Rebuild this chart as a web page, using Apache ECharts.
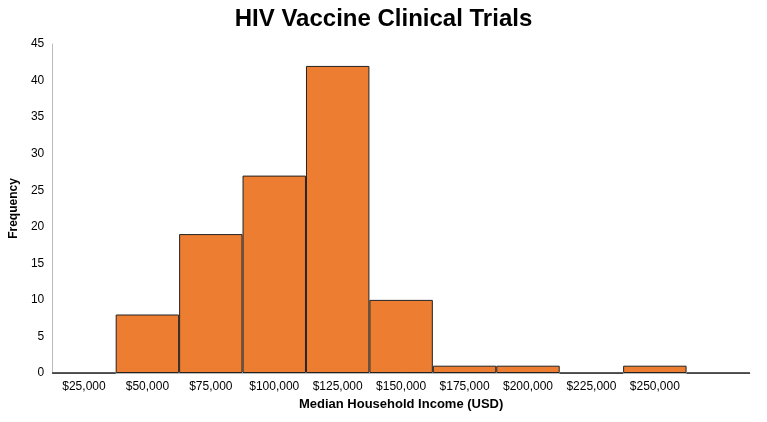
<!DOCTYPE html>
<html>
<head>
<meta charset="utf-8">
<script src="https://cdn.jsdelivr.net/npm/echarts@6/dist/echarts.min.js"></script>
<style>html,body{margin:0;padding:0;background:#fff}#chart{width:767px;height:422px}</style>
</head>
<body>
<div id="chart"></div>
<script>
const categories = ['$25,000', '$50,000', '$75,000', '$100,000', '$125,000', '$150,000', '$175,000', '$200,000', '$225,000', '$250,000', ''];
const frequency = [0, 8, 19, 27, 42, 10, 1, 1, 0, 1, 0];

const chart = echarts.init(document.getElementById('chart'));
chart.setOption({
    animation: false,
    title: {
        text: 'HIV Vaccine Clinical Trials',
        left: 'center',
        top: 2,
        textStyle: { fontFamily: 'Liberation Sans', fontSize: 24, fontWeight: 'bold', color: '#000' }
    },
    grid: { left: 46, right: 17, top: 44, bottom: 49 },
    xAxis: {
        type: 'category',
        data: categories,
        name: 'Median Household Income (USD)',
        nameLocation: 'middle',
        nameGap: 22,
        nameTextStyle: { fontFamily: 'Liberation Sans', fontSize: 13, fontWeight: 'bold', color: '#000' },
        axisLine: { lineStyle: { color: '#bbb' } },
        axisTick: { show: false },
        axisLabel: { color: '#000', fontSize: 12, fontFamily: 'Liberation Sans', interval: 0 }
    },
    yAxis: {
        type: 'value',
        min: 0, max: 45, interval: 5,
        name: 'Frequency',
        nameLocation: 'middle',
        nameGap: 32,
        nameTextStyle: { fontFamily: 'Liberation Sans', fontSize: 12, fontWeight: 'bold', color: '#000' },
        axisLine: { show: true, lineStyle: { color: '#bbb' } },
        splitLine: { show: false },
        axisLabel: { color: '#000', fontSize: 12, fontFamily: 'Liberation Sans' }
    },
    series: [{
        type: 'bar',
        data: frequency,
        barWidth: '100%',
        itemStyle: { color: '#ED7D31', borderColor: '#222', borderWidth: 1 }
    }]
});
</script>
</body>
</html>
